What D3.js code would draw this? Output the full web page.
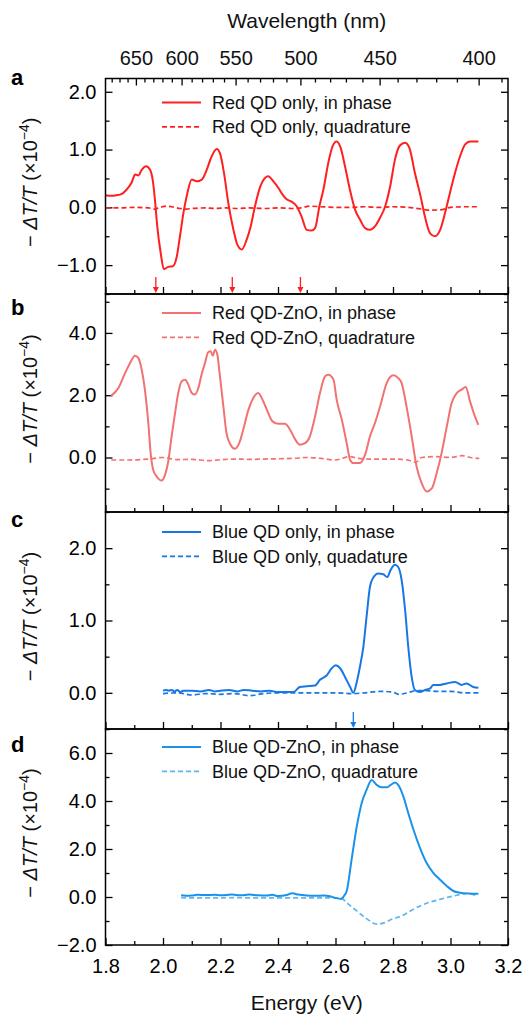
<!DOCTYPE html>
<html>
<head>
<meta charset="utf-8">
<script src="https://cdn.jsdelivr.net/npm/d3@7"></script>
<style>
  html, body { margin: 0; padding: 0; background: #fff; }
  svg { display: block; font-family: "Liberation Sans", Arial, Helvetica, sans-serif; }
</style>
</head>
<body>
<svg id="chart" width="529" height="1014"></svg>
<script>
// ---- data: energy (eV) vs -dT/T (x1e-4) ----
const energyTicks = [1.8, 2.0, 2.2, 2.4, 2.6, 2.8, 3.0, 3.2];
const wavelengthTicks = [650, 600, 550, 500, 450, 400];

const redQdInPhase = [
  [1.800,0.21],[1.820,0.20],[1.839,0.21],[1.850,0.22],[1.862,0.25],[1.879,0.34],[1.891,0.43],[1.903,0.57],
  [1.914,0.55],[1.926,0.65],[1.941,0.71],[1.955,0.65],[1.964,0.48],[1.972,0.13],[1.980,-0.33],[1.992,-0.79],
  [2.003,-1.07],[2.018,-1.03],[2.034,-1.02],[2.048,-0.85],[2.059,-0.50],[2.071,-0.10],[2.085,0.25],[2.100,0.48],
  [2.117,0.45],[2.135,0.48],[2.152,0.65],[2.169,0.88],[2.187,1.01],[2.198,0.94],[2.212,0.60],[2.227,0.08],
  [2.245,-0.39],[2.259,-0.65],[2.274,-0.73],[2.291,-0.56],[2.305,-0.33],[2.320,0.02],[2.337,0.34],[2.355,0.51],
  [2.366,0.54],[2.384,0.45],[2.401,0.34],[2.416,0.22],[2.430,0.14],[2.447,0.10],[2.465,0.02],[2.482,-0.16],
  [2.500,-0.39],[2.517,-0.40],[2.529,-0.36],[2.544,0.02],[2.558,0.31],[2.575,0.77],[2.590,1.06],[2.604,1.14],
  [2.618,1.03],[2.633,0.71],[2.650,0.31],[2.668,-0.04],[2.685,-0.21],[2.703,-0.36],[2.720,-0.39],[2.737,-0.33],
  [2.755,-0.18],[2.773,0.02],[2.790,0.36],[2.807,0.83],[2.824,1.07],[2.842,1.12],[2.857,1.03],[2.876,0.60],
  [2.896,0.19],[2.911,-0.16],[2.929,-0.45],[2.946,-0.50],[2.964,-0.39],[2.981,-0.10],[2.998,0.25],[3.016,0.60],
  [3.033,0.88],[3.051,1.09],[3.068,1.14],[3.097,1.14]
];
const redQdQuadrature = [
  [1.80,-0.01],[1.85,-0.01],[1.90,0.00],[1.95,-0.01],[1.97,-0.03],[1.99,0.00],[2.01,0.02],[2.03,0.01],
  [2.06,-0.02],[2.08,-0.03],[2.10,-0.02],[2.15,-0.01],[2.18,-0.02],[2.22,-0.01],[2.26,-0.02],[2.30,-0.01],
  [2.35,-0.02],[2.40,-0.01],[2.45,-0.02],[2.48,-0.01],[2.51,0.02],[2.55,0.01],[2.60,0.00],[2.65,0.00],
  [2.70,0.01],[2.75,0.00],[2.80,0.01],[2.85,0.00],[2.90,-0.03],[2.93,-0.05],[2.97,-0.04],[3.00,0.00],
  [3.05,0.01],[3.10,0.01]
];

const redZnoInPhase = [
  [1.819,1.98],[1.845,2.23],[1.868,2.71],[1.885,3.03],[1.903,3.27],[1.914,3.20],[1.926,2.82],[1.937,2.18],
  [1.949,1.10],[1.957,0.14],[1.966,-0.40],[1.978,-0.61],[1.995,-0.74],[2.007,-0.56],[2.019,-0.08],[2.030,0.68],
  [2.042,1.43],[2.053,2.07],[2.065,2.45],[2.077,2.50],[2.088,2.34],[2.100,2.07],[2.111,2.02],[2.123,2.23],
  [2.134,2.66],[2.146,3.03],[2.157,3.38],[2.166,3.41],[2.173,3.27],[2.181,3.46],[2.189,3.30],[2.198,2.61],
  [2.210,1.64],[2.221,0.78],[2.235,0.41],[2.250,0.28],[2.265,0.46],[2.279,0.89],[2.297,1.53],[2.314,1.91],
  [2.331,2.07],[2.349,1.80],[2.366,1.43],[2.381,1.16],[2.401,1.08],[2.424,1.08],[2.442,0.89],[2.459,0.59],
  [2.476,0.41],[2.494,0.46],[2.511,0.68],[2.529,1.32],[2.546,2.07],[2.564,2.61],[2.575,2.66],[2.593,2.50],
  [2.604,1.86],[2.622,1.21],[2.639,0.46],[2.651,-0.08],[2.662,-0.18],[2.685,-0.18],[2.703,0.09],[2.720,0.68],
  [2.737,1.10],[2.755,1.64],[2.778,2.39],[2.801,2.64],[2.818,2.55],[2.830,2.39],[2.847,1.64],[2.865,0.68],
  [2.882,-0.29],[2.900,-0.83],[2.917,-1.09],[2.935,-0.99],[2.952,-0.50],[2.969,0.14],[2.987,0.99],[3.004,1.75],
  [3.022,2.07],[3.039,2.18],[3.053,2.26],[3.068,1.80],[3.085,1.32],[3.097,1.05]
];
const redZnoQuadrature = [
  [1.82,-0.08],[1.88,-0.08],[1.95,-0.05],[2.00,0.00],[2.05,-0.07],[2.10,-0.06],[2.16,-0.10],[2.20,-0.07],
  [2.25,-0.05],[2.30,-0.06],[2.35,-0.05],[2.40,-0.04],[2.45,-0.03],[2.50,0.00],[2.55,-0.03],[2.60,-0.08],
  [2.65,0.03],[2.68,-0.03],[2.72,-0.05],[2.80,-0.05],[2.85,-0.08],[2.88,-0.15],[2.90,0.00],[2.95,0.03],
  [3.00,0.00],[3.04,0.06],[3.07,0.00],[3.10,-0.03]
];

const blueQdInPhase = [
  [2.000,0.03],[2.010,0.04],[2.020,0.03],[2.030,0.04],[2.040,0.02],[2.050,0.04],[2.060,0.01],[2.070,0.03],
  [2.100,0.03],[2.130,0.02],[2.160,0.04],[2.180,0.02],[2.200,0.03],[2.230,0.04],[2.260,0.02],[2.280,0.04],
  [2.310,0.03],[2.340,0.02],[2.370,0.03],[2.400,0.01],[2.430,0.01],[2.453,0.01],[2.476,0.08],[2.500,0.09],
  [2.529,0.10],[2.546,0.18],[2.569,0.24],[2.587,0.34],[2.601,0.38],[2.616,0.34],[2.633,0.22],[2.651,0.08],
  [2.662,0.00],[2.674,0.15],[2.685,0.36],[2.697,0.64],[2.708,1.05],[2.720,1.47],[2.731,1.59],[2.749,1.65],
  [2.766,1.64],[2.780,1.60],[2.792,1.70],[2.807,1.77],[2.818,1.74],[2.830,1.56],[2.842,1.15],[2.853,0.64],
  [2.865,0.22],[2.876,0.04],[2.894,0.01],[2.911,0.04],[2.929,0.06],[2.940,0.11],[2.963,0.11],[2.987,0.13],
  [3.016,0.15],[3.039,0.11],[3.056,0.13],[3.079,0.08],[3.097,0.07]
];
const blueQdQuadrature = [
  [2.00,-0.01],[2.05,0.00],[2.10,-0.03],[2.15,-0.01],[2.20,-0.02],[2.25,-0.01],[2.30,-0.04],[2.35,-0.01],
  [2.40,0.00],[2.45,0.00],[2.50,0.00],[2.55,0.00],[2.60,0.00],[2.66,-0.01],[2.70,0.00],[2.76,0.02],
  [2.80,0.01],[2.82,-0.02],[2.85,0.00],[2.88,0.03],[2.92,0.03],[2.95,0.02],[3.00,0.02],[3.05,0.00],
  [3.10,0.00]
];

const blueZnoInPhase = [
  [2.063,0.07],[2.080,0.05],[2.100,0.06],[2.120,0.09],[2.150,0.08],[2.180,0.09],[2.200,0.07],[2.220,0.08],
  [2.240,0.10],[2.270,0.07],[2.300,0.10],[2.330,0.07],[2.360,0.06],[2.380,0.09],[2.400,0.04],[2.430,0.08],
  [2.450,0.16],[2.470,0.10],[2.500,0.06],[2.530,0.05],[2.560,0.06],[2.580,0.03],[2.600,-0.04],[2.620,-0.08],
  [2.630,0.05],[2.639,0.25],[2.656,1.56],[2.674,2.94],[2.691,3.91],[2.708,4.46],[2.726,4.87],[2.743,4.67],
  [2.760,4.57],[2.778,4.57],[2.792,4.67],[2.807,4.77],[2.818,4.67],[2.836,4.19],[2.853,3.50],[2.871,2.81],
  [2.894,2.04],[2.917,1.42],[2.940,1.01],[2.963,0.73],[2.987,0.46],[3.010,0.25],[3.033,0.18],[3.062,0.15],
  [3.097,0.14]
];
const blueZnoQuadrature = [
  [2.063,-0.03],[2.15,-0.04],[2.25,-0.03],[2.35,-0.04],[2.45,-0.04],[2.55,-0.04],[2.60,-0.04],[2.620,-0.05],
  [2.639,-0.24],[2.674,-0.58],[2.708,-0.90],[2.743,-1.13],[2.766,-1.09],[2.795,-0.93],[2.830,-0.79],[2.871,-0.51],
  [2.917,-0.26],[2.963,-0.10],[3.010,0.04],[3.056,0.14],[3.097,0.04]
];

// marker arrows (eV)
const redArrows = [1.975, 2.241, 2.478];
const blueArrows = [2.662];

// ---- layout ----
const svg = d3.select("#chart");
const X0 = 105.5, X1 = 508;
const hc = 1239.84;
const x = d3.scaleLinear().domain([1.8, 3.2]).range([X0, X1]);
const FONT_TICK = 20, FONT_LEG = 18, FONT_TITLE = 21;

const panels = [
  { letter: "a", top: 78.5, bottom: 294, domain: [-1.5, 2.23], major: [-1, 0, 1, 2], minorStep: 0.5,
    legendY: 24, letterY: 85,
    series: [
      { data: redQdInPhase, color: "#ff1f1f", dash: null, label: "Red QD only, in phase" },
      { data: redQdQuadrature, color: "#ff1f1f", dash: "5,3", label: "Red QD only, quadrature" }
    ], arrows: redArrows, arrowColor: "#ff1f1f" },
  { letter: "b", top: 294, bottom: 512, domain: [-1.75, 5.25], major: [0, 2, 4], minorStep: 1,
    legendY: 19, letterY: 315,
    series: [
      { data: redZnoInPhase, color: "#f27272", dash: null, label: "Red QD-ZnO, in phase" },
      { data: redZnoQuadrature, color: "#f27272", dash: "5,3", label: "Red QD-ZnO, quadrature" }
    ] },
  { letter: "c", top: 512, bottom: 729, domain: [-0.5, 2.5], major: [0, 1, 2], minorStep: 0.5,
    legendY: 20, letterY: 527,
    series: [
      { data: blueQdInPhase, color: "#1877e6", dash: null, label: "Blue QD only, in phase" },
      { data: blueQdQuadrature, color: "#1877e6", dash: "5,3", label: "Blue QD only, quadature" }
    ], arrows: blueArrows, arrowColor: "#1877e6" },
  { letter: "d", top: 729, bottom: 945, domain: [-2, 7], major: [-2, 0, 2, 4, 6], minorStep: 1,
    legendY: 18, letterY: 752,
    series: [
      { data: blueZnoInPhase, color: "#1b92ea", dash: null, label: "Blue QD-ZnO, in phase" },
      { data: blueZnoQuadrature, color: "#5cb6f2", dash: "5,3", label: "Blue QD-ZnO, quadrature" }
    ] }
];

const fmt = d3.format(".1f");
const eMinor = d3.range(1.8, 3.2001, 0.1).map(v => +v.toFixed(2));

function cleanAxis(g) {
  g.select(".domain").remove();
  g.selectAll(".tick line").attr("stroke", "#000").attr("stroke-width", 1.3);
  g.selectAll(".tick text").attr("fill", "#000");
}

panels.forEach((p, i) => {
  const y = d3.scaleLinear().domain(p.domain).range([p.bottom, p.top]);
  const g = svg.append("g");
  const minors = d3.range(Math.ceil(p.domain[0] / p.minorStep) * p.minorStep, p.domain[1] + 1e-9, p.minorStep)
    .map(v => +v.toFixed(3)).filter(v => !p.major.includes(v));

  // clip to the panel frame
  const clipId = "clip-" + p.letter;
  svg.append("clipPath").attr("id", clipId).append("rect")
    .attr("x", X0).attr("y", p.top).attr("width", X1 - X0).attr("height", p.bottom - p.top);

  // left axis
  g.append("g").attr("transform", `translate(${X0},0)`)
    .call(d3.axisLeft(y).tickValues(p.major).tickSizeInner(-7).tickSizeOuter(0).tickPadding(9).tickFormat(fmt))
    .call(cleanAxis)
    .call(s => s.selectAll(".tick text").attr("font-size", FONT_TICK).attr("font-family", null));
  g.append("g").attr("transform", `translate(${X0},0)`)
    .call(d3.axisLeft(y).tickValues(minors).tickSize(-4).tickFormat(""))
    .call(cleanAxis);
  // right axis
  g.append("g").attr("transform", `translate(${X1},0)`)
    .call(d3.axisRight(y).tickValues(p.major).tickSize(-7).tickFormat(""))
    .call(cleanAxis);
  g.append("g").attr("transform", `translate(${X1},0)`)
    .call(d3.axisRight(y).tickValues(minors).tickSize(-4).tickFormat(""))
    .call(cleanAxis);
  // bottom axis (energy)
  const last = i === panels.length - 1;
  g.append("g").attr("transform", `translate(0,${p.bottom})`)
    .call(d3.axisBottom(x).tickValues(energyTicks).tickSizeInner(-7).tickSizeOuter(0).tickPadding(14)
      .tickFormat(last ? fmt : ""))
    .call(cleanAxis)
    .call(s => s.selectAll(".tick text").attr("font-size", FONT_TICK).attr("font-family", null));
  g.append("g").attr("transform", `translate(0,${p.bottom})`)
    .call(d3.axisBottom(x).tickValues(eMinor.filter(v => !energyTicks.some(t => Math.abs(t - v) < 1e-6)))
      .tickSize(-4).tickFormat(""))
    .call(cleanAxis);

  // curves
  const line = d3.line().x(d => x(d[0])).y(d => y(d[1])).curve(d3.curveMonotoneX);
  const curves = g.append("g").attr("clip-path", `url(#${clipId})`);
  p.series.slice().reverse().forEach(s => {
    curves.append("path").datum(s.data)
      .attr("d", line).attr("fill", "none")
      .attr("stroke", s.color).attr("stroke-width", s.dash ? 1.7 : 2)
      .attr("stroke-dasharray", s.dash).attr("stroke-linejoin", "round");
  });

  // legend
  p.series.forEach((s, k) => {
    const ly = p.top + p.legendY + k * 24.3;
    g.append("line").attr("x1", 162).attr("x2", 201).attr("y1", ly).attr("y2", ly)
      .attr("stroke", s.color).attr("stroke-width", s.dash ? 1.7 : 2).attr("stroke-dasharray", s.dash);
    g.append("text").attr("x", 212).attr("y", ly).attr("dy", "0.35em")
      .attr("font-size", FONT_LEG).attr("fill", "#111").text(s.label);
  });

  // arrows marking energies at the panel floor
  if (p.arrows) {
    p.arrows.forEach(e => {
      const ax = x(e);
      g.append("line").attr("x1", ax).attr("x2", ax).attr("y1", p.bottom - 17).attr("y2", p.bottom - 5)
        .attr("stroke", p.arrowColor).attr("stroke-width", 1.3);
      g.append("path")
        .attr("d", `M${ax - 3},${p.bottom - 7}L${ax + 3},${p.bottom - 7}L${ax},${p.bottom - 1}Z`)
        .attr("fill", p.arrowColor);
    });
  }

  // frame
  g.append("rect").attr("x", X0).attr("y", p.top).attr("width", X1 - X0).attr("height", p.bottom - p.top)
    .attr("fill", "none").attr("stroke", "#000").attr("stroke-width", 1.5);

  // panel letter
  g.append("text").attr("x", 11).attr("y", p.letterY).attr("font-size", 22).attr("font-weight", "bold")
    .attr("fill", "#000").text(p.letter);

  // y title
  const t = g.append("text")
    .attr("transform", `translate(37,${(p.top + p.bottom) / 2 - 4}) rotate(-90)`)
    .attr("text-anchor", "middle").attr("font-size", 20).attr("fill", "#111");
  t.append("tspan").text("\u2212 ");
  t.append("tspan").attr("font-style", "italic").text("\u0394T/T");
  t.append("tspan").text(" (\u00d710");
  t.append("tspan").attr("font-size", 14).attr("dy", -8).text("\u22124");
  t.append("tspan").attr("dy", 8).text(")");
});

// top wavelength axis on panel a
const topY = panels[0].top;
const wlMinor = d3.range(390, 681, 10).filter(w => !wavelengthTicks.includes(w));
const gTop = svg.append("g");
gTop.selectAll("line.minor").data(wlMinor).join("line").attr("class", "minor")
  .attr("x1", w => x(hc / w)).attr("x2", w => x(hc / w)).attr("y1", topY).attr("y2", topY + 4)
  .attr("stroke", "#000").attr("stroke-width", 1.3);
gTop.selectAll("line.major").data(wavelengthTicks).join("line").attr("class", "major")
  .attr("x1", w => x(hc / w)).attr("x2", w => x(hc / w)).attr("y1", topY).attr("y2", topY + 7)
  .attr("stroke", "#000").attr("stroke-width", 1.3);
gTop.selectAll("text").data(wavelengthTicks).join("text")
  .attr("x", w => x(hc / w)).attr("y", 65).attr("text-anchor", "middle")
  .attr("font-size", FONT_TICK).attr("fill", "#111").text(w => w);

// axis titles
svg.append("text").attr("x", (X0 + X1) / 2).attr("y", 28).attr("text-anchor", "middle")
  .attr("font-size", FONT_TITLE).attr("fill", "#111").text("Wavelength (nm)");
svg.append("text").attr("x", (X0 + X1) / 2).attr("y", 1010).attr("text-anchor", "middle")
  .attr("font-size", FONT_TITLE).attr("fill", "#111").text("Energy (eV)");
</script>
</body>
</html>
